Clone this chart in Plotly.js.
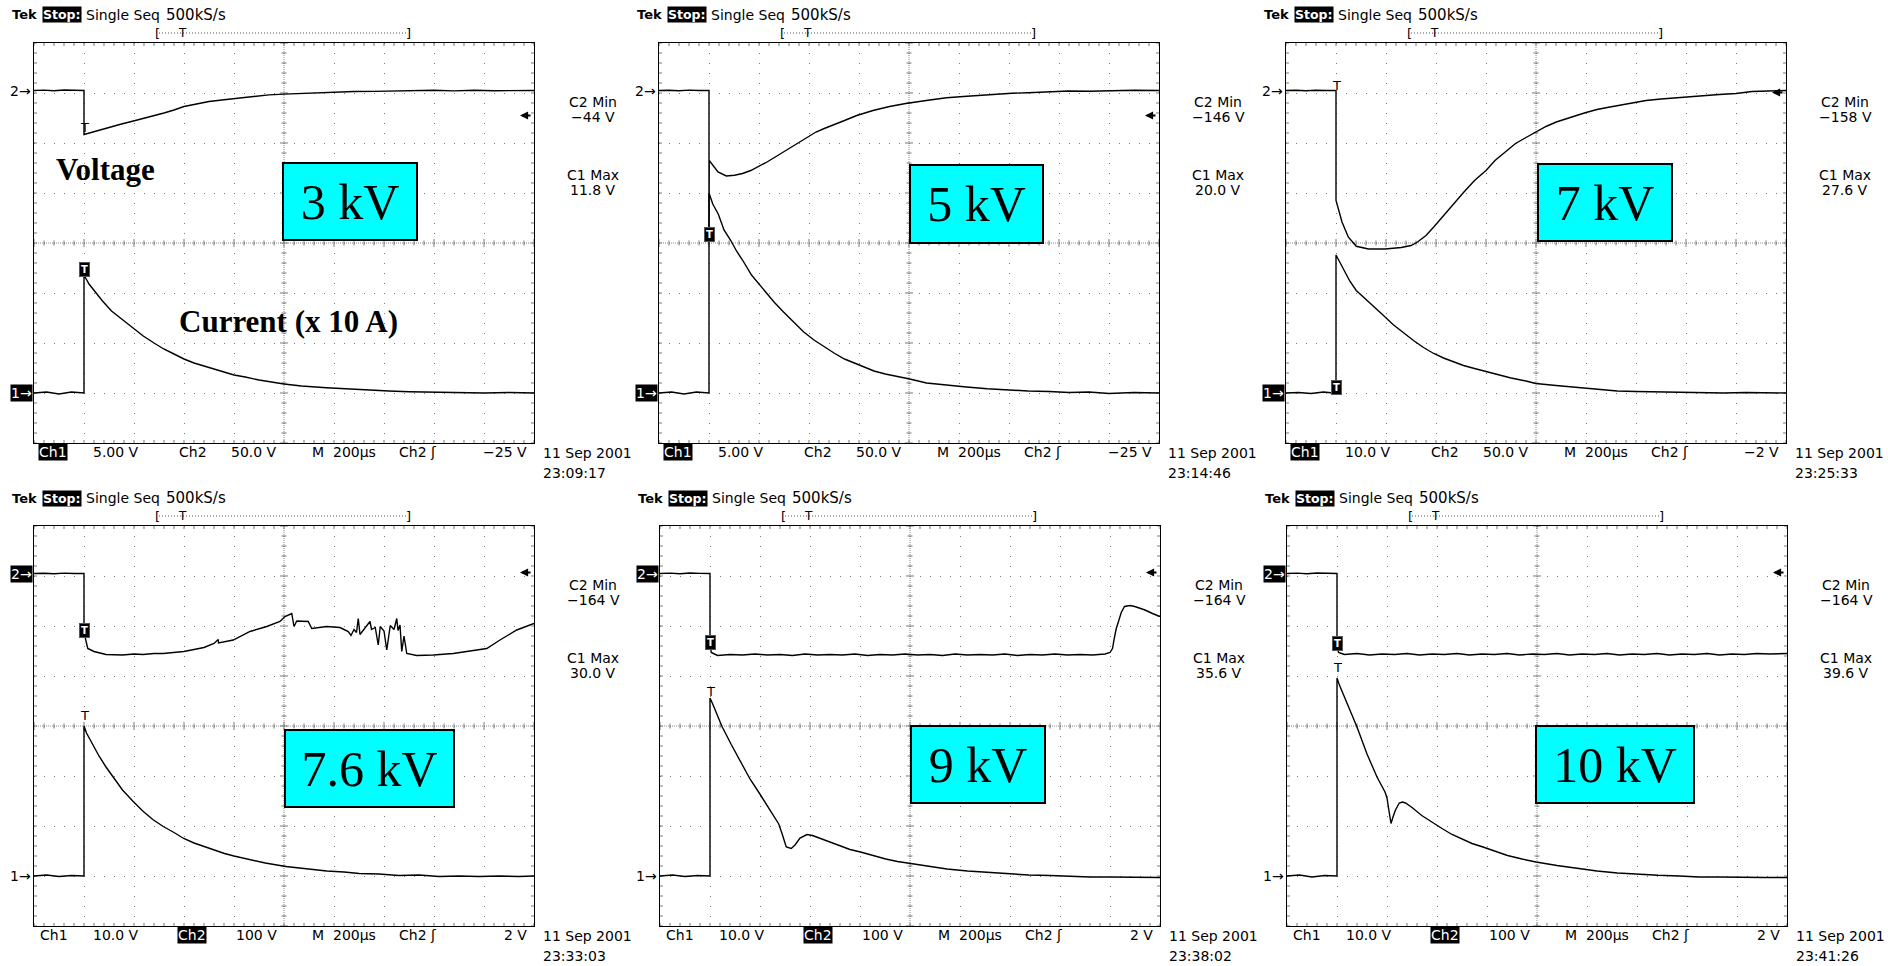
<!DOCTYPE html>
<html><head><meta charset="utf-8">
<script src="https://cdn.plot.ly/plotly-3.0.1.min.js"></script>
<style>
html,body{margin:0;padding:0;background:#fff;}
#chart{width:1888px;height:966px;}
</style></head><body><div id="chart"></div>
<script>
// ---------- DATA (time in µs, CH2 = voltage in V, CH1 = current probe in V) ----------
const tVolt3 = [-200,-160,-120,-80,-40,0,0,20,50,80,110,150,190,240,280,320,360,400,450,500,560,620,680,740,800,870,940,1000,1080,1160,1240,1320,1400,1480,1560,1640,1720,1800];
const volt3  = [0,0.4,-0.3,0.5,0.2,0,-44,-42.5,-40.5,-38.5,-36.5,-33.5,-31,-28,-25.5,-22.5,-19.5,-16,-13.5,-11,-9.2,-7.4,-5.8,-4.4,-3.6,-2.8,-2,-1.5,-1,-0.9,-0.4,-0.6,0.2,-0.4,0.3,-0.2,0.2,0];
const tCurr3 = [-200,-150,-100,-50,0,0,20,50,74,110,156,200,237,280,319,360,400,440,482,520,563,600,645,700,800,870,970,1050,1134,1220,1300,1400,1500,1600,1700,1800];
const curr3  = [0,0.1,-0.1,0.1,0,11.8,10.9,9.9,9.2,8.2,7.3,6.4,5.7,5.0,4.4,3.9,3.4,3.0,2.7,2.4,2.1,1.8,1.6,1.3,0.9,0.7,0.53,0.42,0.27,0.2,0.13,0.08,0.1,0,0.05,0];

const tVolt5 = [-200,-160,-120,-80,-40,0,0,1,36,69,102,134,167,200,232,265,298,330,363,395,428,461,493,542,591,656,722,787,869,950,1032,1113,1211,1276,1360,1439,1520,1603,1700,1800];
const volt5  = [0,0.3,-0.2,0.4,0,0,-146,-70,-81.5,-85.5,-84.8,-83,-80,-76,-71.5,-66.5,-61.5,-56.5,-51.5,-46.5,-41.5,-38,-35,-30,-25,-20,-16,-13,-10,-7.2,-5.8,-4.2,-2.8,-2.2,-1.2,-0.5,-0.8,-0.2,0.2,0];
const tCurr5 = [-200,-150,-100,-50,0,0,15,37,60,86,110,134,170,216,260,298,340,379,420,461,500,542,580,624,660,705,750,803,870,950,1030,1113,1190,1276,1360,1440,1520,1600,1700,1800];
const curr5  = [0,0.1,-0.1,0.1,0,20,18.9,17.9,16.3,15.3,14.2,13.3,11.8,10.4,9.1,8.1,7.1,6.1,5.3,4.6,4.0,3.4,3.0,2.6,2.2,1.9,1.7,1.4,1.0,0.77,0.6,0.43,0.3,0.2,0.15,0.05,0.1,-0.05,0.05,0];

const tVolt7 = [-200,-160,-120,-80,-40,0,0,8,24,49,81,130,196,261,300,326,360,391,430,473,510,554,600,636,680,718,760,799,840,881,920,962,1000,1044,1085,1125,1180,1240,1300,1370,1450,1533,1600,1664,1730,1800];
const volt7  = [0,0.3,-0.2,0.3,0,0,-110,-116.5,-131.5,-146.5,-155.8,-158.5,-158.5,-157,-155,-151.5,-145,-136.5,-125,-113,-102,-90,-80,-70,-61,-53,-47,-41.5,-36,-31.5,-28,-25,-22,-19,-17,-15,-12.5,-10,-8.5,-7,-5.5,-4,-3,-1,-0.5,0];
const tCurr7 = [-200,-150,-100,-50,-10,0,0,3,32,55,81,110,147,190,228,270,310,350,391,430,473,510,554,600,636,700,760,799,880,962,1040,1125,1200,1288,1380,1460,1550,1640,1720,1800];
const curr7  = [0,0.1,-0.1,0.2,0,0,27.6,27.3,24.5,22.4,20.5,19.2,17.6,15.5,13.7,12.0,10.5,9.1,7.9,7.0,6.2,5.5,4.9,4.3,3.9,3.0,2.4,1.9,1.5,1.1,0.7,0.4,0.3,0.2,0.1,0.15,0.0,0.1,0,0];

const tVolt76 = [-200,-160,-120,-80,-40,0,0,8,15,40,88,154,200,236,280,317,360,399,440,480,520,537,538,597,664,731,784,804,831,840,851,897,911,971,1024,1057,1068,1080,1090,1097,1104,1120,1144,1150,1165,1177,1185,1200,1211,1225,1240,1251,1256,1264,1271,1280,1291,1331,1397,1477,1531,1611,1664,1731,1800];
const volt76  = [0,0.6,-0.4,0.8,0,0,-118,-138,-150,-156,-162,-163,-161,-162,-160,-160,-158,-156,-152,-148,-140,-132,-139,-133,-116,-106,-96,-86,-80,-106,-95,-96,-110,-106,-108,-116,-124,-112,-118,-90,-122,-112,-96,-112,-108,-143,-106,-115,-153,-104,-112,-90,-114,-103,-156,-125,-160,-164,-163,-160,-156,-150,-133,-113,-100];
const tCurr76 = [-200,-150,-100,-50,0,0,10,25,40,60,88,121,154,195,235,275,317,360,399,440,480,520,562,600,644,685,725,807,890,971,1040,1101,1180,1260,1340,1420,1500,1580,1660,1740,1800];
const curr76  = [0,0.2,-0.1,0.1,0,30,28.6,27.2,25.8,24,21.8,19.5,17.2,15,13,11.3,9.9,8.7,7.5,6.6,5.9,5.1,4.5,4.0,3.5,3.0,2.6,1.9,1.4,1.0,0.8,0.5,0.4,0.1,0.2,-0.1,0,-0.1,0,-0.1,0];

const tVolt9 = [-200,-160,-120,-80,-40,0,0,5,30,80,130,180,230,280,330,380,430,480,530,580,630,680,730,780,830,880,930,980,1030,1080,1130,1180,1230,1280,1330,1380,1430,1480,1530,1580,1600,1610,1617,1625,1634,1645,1658,1680,1699,1720,1740,1770,1800];
const volt9  = [0,0.8,-0.5,1,0.3,0,-140,-158,-164,-162,-163,-161,-163,-162,-164,-161,-163,-162,-163,-161,-164,-162,-163,-161,-163,-162,-164,-161,-163,-162,-163,-161,-164,-162,-163,-161,-163,-162,-163,-161,-158,-150,-130,-110,-96,-78,-66,-64,-66,-69,-73,-80,-86];
const tCurr9 = [-200,-150,-100,-50,0,0,10,48,85,122,160,202,240,275,290,305,325,340,360,388,410,442,480,522,560,602,650,703,750,801,870,948,1030,1111,1190,1274,1360,1438,1520,1600,1700,1800];
const curr9  = [0,0.2,-0.1,0.1,0,35.6,34.5,29.9,26.3,22.9,19.4,16.2,13.2,10.4,8.2,5.8,5.5,6.2,7.6,8.3,8.1,7.5,6.8,6.0,5.3,4.8,4.1,3.4,2.9,2.5,2.0,1.4,1.0,0.7,0.4,0.2,0.1,-0.1,-0.2,-0.2,-0.3,-0.3];

const tVolt10 = [-200,-160,-120,-80,-40,0,0,6,30,80,130,180,230,280,330,380,430,480,530,580,630,680,730,780,830,880,930,980,1030,1080,1130,1180,1230,1280,1330,1380,1430,1480,1530,1580,1630,1680,1730,1800];
const volt10  = [0,0.8,-0.6,1,0.4,0,-140,-158,-162,-160,-163,-161,-162,-160,-163,-161,-162,-160,-163,-161,-162,-160,-163,-161,-162,-160,-163,-161,-162,-160,-163,-161,-162,-160,-163,-161,-162,-160,-163,-161,-162,-160,-161,-160];
const tCurr10 = [-200,-150,-100,-50,0,0,8,40,80,120,160,192,200,208,216,224,233,249,262,274,300,339,380,420,460,502,540,584,630,682,740,796,880,959,1040,1122,1200,1285,1370,1448,1530,1620,1710,1800];
const curr10  = [0,0.2,-0.2,0.1,0,39.6,38.4,34.5,29.8,24.4,19.8,16.8,15.6,13.0,10.5,11.8,13.1,14.6,14.8,14.6,13.7,12.1,10.7,9.5,8.3,7.3,6.5,5.8,5.0,4.1,3.4,2.8,2.1,1.5,1.0,0.6,0.35,0.14,0.0,-0.2,-0.2,-0.3,-0.3,-0.3];

const voltageLabels = ['3 kV','5 kV','7 kV','7.6 kV','9 kV','10 kV'];
const c2MinTexts = ['−44 V','−146 V','−158 V','−164 V','−164 V','−164 V'];
const c1MaxTexts = ['11.8 V','20.0 V','27.6 V','30.0 V','35.6 V','39.6 V'];
const ch1ScaleTexts = ['5.00 V','5.00 V','10.0 V','10.0 V','10.0 V','10.0 V'];
const ch2ScaleTexts = ['50.0 V','50.0 V','50.0 V','100 V','100 V','100 V'];
const trigLevelTexts = ['−25 V','−25 V','−2 V','2 V','2 V','2 V'];
const trigLevels = [-25,-25,-2,2,2,2];
const ch1Scales = [5,5,10,10,10,10];
const ch2Scales = [50,50,50,100,100,100];
const timeStamps = ['23:09:17','23:14:46','23:25:33','23:33:03','23:38:02','23:41:26'];

// ---------- LAYOUT / STYLE ----------
const W=1888,H=966,PW=500,PH=400,G2=0.95,G1=7.0;
const px=X=>X/W, py=Y=>1-Y/H;
const SANS='DejaVu Sans', SERIF='Liberation Serif';

const panels = [
 {L:34,  T:43,  sel:1, box:[248,119,384,198], tV:tVolt3,  V:volt3,  tI:tCurr3,  I:curr3,  marks:[{ch:2,v:-37,inv:false},{ch:1,v:12.4,inv:true}]},
 {L:659, T:43,  sel:1, box:[250,121,385,201], tV:tVolt5,  V:volt5,  tI:tCurr5,  I:curr5,  marks:[{ch:2,v:-144,inv:true}]},
 {L:1286,T:43,  sel:1, box:[251,120,387,199], tV:tVolt7,  V:volt7,  tI:tCurr7,  I:curr7,  marks:[{ch:2,v:5.5,inv:false},{ch:1,v:1.2,inv:true}]},
 {L:34,  T:526, sel:2, box:[250,203,421,282], tV:tVolt76, V:volt76, tI:tCurr76, I:curr76, marks:[{ch:2,v:-114,inv:true},{ch:1,v:32.1,inv:false}]},
 {L:660, T:526, sel:2, box:[250,199,386,278], tV:tVolt9,  V:volt9,  tI:tCurr9,  I:curr9,  marks:[{ch:2,v:-138,inv:true},{ch:1,v:36.9,inv:false}]},
 {L:1287,T:526, sel:2, box:[248,199,408,278], tV:tVolt10, V:volt10, tI:tCurr10, I:curr10, marks:[{ch:2,v:-140,inv:true},{ch:1,v:41.7,inv:false}]}
];

const traces=[], ann=[], shapes=[];
const layout={width:W,height:H,margin:{l:0,r:0,t:0,b:0},paper_bgcolor:'#fff',plot_bgcolor:'rgba(0,0,0,0)',showlegend:false};
const gridStyle={showgrid:true,gridcolor:'#7a7a7a',gridwidth:1,griddash:'1px,9px',zeroline:false,showline:true,linecolor:'#000',linewidth:1,mirror:true,ticks:'',showticklabels:false,fixedrange:true};

function note(X,Y,text,o){ ann.push(Object.assign({xref:'paper',yref:'paper',x:px(X),y:py(Y),text:text,showarrow:false,xanchor:'left',yanchor:'middle',font:{family:SANS,size:14,color:'#000'}},o||{})); }
const invStyle={bgcolor:'#000',borderpad:0,font:{family:SANS,size:14,color:'#fff'}};
function P(x,y){return px(x).toFixed(5)+','+py(y).toFixed(5);}

panels.forEach((p,i)=>{
  const n=i+1, xa=n===1?'x':'x'+n, k2=2*n-1, k1=2*n;
  const y2=k2===1?'y':'y'+k2, y1='y'+k1;
  const xl=n===1?'xaxis':'xaxis'+n, y2l=k2===1?'yaxis':'yaxis'+k2, y1l='yaxis'+k1;
  const L=p.L, T=p.T, s1=ch1Scales[i], s2=ch2Scales[i];

  layout[xl]=Object.assign({domain:[px(L),px(L+PW)],anchor:y2,range:[-200,1800],tick0:-200,dtick:200},gridStyle);
  layout[y2l]=Object.assign({domain:[py(T+PH),py(T)],anchor:xa,range:[(G2-8)*s2,G2*s2],tick0:G2*s2,dtick:s2},gridStyle);
  layout[y1l]={overlaying:y2,anchor:xa,range:[(G1-8)*s1,G1*s1],visible:false,fixedrange:true};

  traces.push({x:p.tV,y:p.V,xaxis:xa,yaxis:y2,mode:'lines',line:{color:'#000',width:1.4},hoverinfo:'skip'});
  traces.push({x:p.tI,y:p.I,xaxis:xa,yaxis:y1,mode:'lines',line:{color:'#000',width:1.4},hoverinfo:'skip'});

  // graticule: centre lines + tick marks
  shapes.push({type:'line',xref:'paper',yref:'paper',x0:px(L),x1:px(L+PW),y0:py(T+PH/2),y1:py(T+PH/2),line:{color:'#8a8a8a',width:1,dash:'1px,1px'},layer:'below'});
  shapes.push({type:'line',xref:'paper',yref:'paper',x0:px(L+PW/2),x1:px(L+PW/2),y0:py(T),y1:py(T+PH),line:{color:'#8a8a8a',width:1,dash:'1px,1px'},layer:'below'});
  let d='';
  for(let k=0;k<=50;k++){const x=L+k*10, len=(k%5===0)?4:2.5;
    d+='M'+P(x,T+PH/2-len)+'L'+P(x,T+PH/2+len);
    d+='M'+P(x,T)+'L'+P(x,T+3)+'M'+P(x,T+PH)+'L'+P(x,T+PH-3);}
  for(let k=0;k<=40;k++){const y=T+k*10, len=(k%5===0)?4:2.5;
    d+='M'+P(L+PW/2-len,y)+'L'+P(L+PW/2+len,y);
    d+='M'+P(L,y)+'L'+P(L+3,y)+'M'+P(L+PW,y)+'L'+P(L+PW-3,y);}
  shapes.push({type:'path',xref:'paper',yref:'paper',path:d,line:{color:'#7a7a7a',width:1},layer:'below'});

  // header
  note(L-24,T-28,'<b>Tek</b>',{font:{family:SANS,size:13,color:'#000'}});
  note(L+8,T-28,'<b>Stop:</b>',{bgcolor:'#000',borderpad:0,font:{family:SANS,size:12.5,color:'#fff'}});
  note(L+50,T-28,'Single Seq');
  note(L+130,T-28,'500kS/s',{font:{family:SANS,size:15,color:'#000'}});
  note(L+119,T-10,'[',{font:{family:SANS,size:13,color:'#000'}});
  note(L+379,T-10,']',{xanchor:'right',font:{family:SANS,size:13,color:'#000'}});
  note(L+148,T-10,'T',{xanchor:'center',font:{family:SANS,size:12,color:'#000'}});
  shapes.push({type:'line',xref:'paper',yref:'paper',x0:px(L+125),x1:px(L+373),y0:py(T-10),y1:py(T-10),line:{color:'#555',width:1,dash:'1px,2px'}});

  // bottom status line
  const yb=T+PH+9;
  note(L+4,yb,'Ch1',p.sel===1?invStyle:{});
  note(L+57,yb,ch1ScaleTexts[i]);
  note(L+143,yb,'Ch2',p.sel===2?invStyle:{});
  note(L+245,yb,ch2ScaleTexts[i],{xanchor:'right'});
  note(L+276,yb,'M\u00a0\u00a0200µs');
  note(L+363,yb,'Ch2 ʃ');
  note(L+495,yb,trigLevelTexts[i],{xanchor:'right'});
  note(L+PW+7,T+PH+10,'11 Sep 2001');
  note(L+PW+7,T+PH+30,timeStamps[i]);

  // right readouts
  const xr=L+PW+59;
  note(xr,T+59,'C2 Min',{xanchor:'center'});
  note(xr,T+74,c2MinTexts[i],{xanchor:'center'});
  note(xr,T+132,'C1 Max',{xanchor:'center'});
  note(xr,T+147,c1MaxTexts[i],{xanchor:'center'});

  // channel ground markers & trigger level arrow
  const m2=Object.assign({xref:'paper',yref:y2,x:px(L-1),y:0,text:'2→',showarrow:false,xanchor:'right',yanchor:'middle',font:{family:SANS,size:14,color:'#000'}},p.sel===2?invStyle:{});
  const m1=Object.assign({xref:'paper',yref:y1,x:px(L-1),y:0,text:'1→',showarrow:false,xanchor:'right',yanchor:'middle',font:{family:SANS,size:14,color:'#000'}},p.sel===1?invStyle:{});
  ann.push(m2,m1);
  ann.push({xref:'paper',yref:y2,x:px(L+PW-14),y:trigLevels[i],text:'',showarrow:true,ax:12,ay:0,
    arrowhead:2,arrowsize:0.9,arrowwidth:1.8,arrowcolor:'#000',standoff:0,startstandoff:0});

  // trigger point markers
  p.marks.forEach(m=>{
    const yr=m.ch===2?y2:y1;
    if(m.inv) ann.push({xref:xa,yref:yr,x:0,y:m.v,text:'<b>T</b>',showarrow:false,xanchor:'center',yanchor:'middle',bgcolor:'#000',borderpad:1,bordercolor:'#555',borderwidth:1,font:{family:SANS,size:10,color:'#fff'}});
    else ann.push({xref:xa,yref:yr,x:0,y:m.v,text:'T',showarrow:false,xanchor:'center',yanchor:'middle',font:{family:SANS,size:13,color:'#000'}});
  });

  // cyan voltage label box
  const b=p.box;
  ann.push({xref:'paper',yref:'paper',x:px(L+(b[0]+b[2])/2),y:py(T+(b[1]+b[3])/2),xanchor:'center',yanchor:'middle',
    text:voltageLabels[i],showarrow:false,font:{family:SERIF,size:50,color:'#000'},
    bgcolor:'#00ffff',bordercolor:'#000',borderwidth:2,borderpad:0,width:b[2]-b[0]-4,height:b[3]-b[1]-4});
});

// panel-1 annotations
note(54,169,'<b>Voltage</b>',{font:{family:SERIF,size:31,color:'#000'}});
note(177,322,'<b>Current (x 10 A)</b>',{font:{family:SERIF,size:31,color:'#000'}});

layout.annotations=ann;
layout.shapes=shapes;
Plotly.newPlot('chart',traces,layout,{staticPlot:true,displayModeBar:false});
</script></body></html>
